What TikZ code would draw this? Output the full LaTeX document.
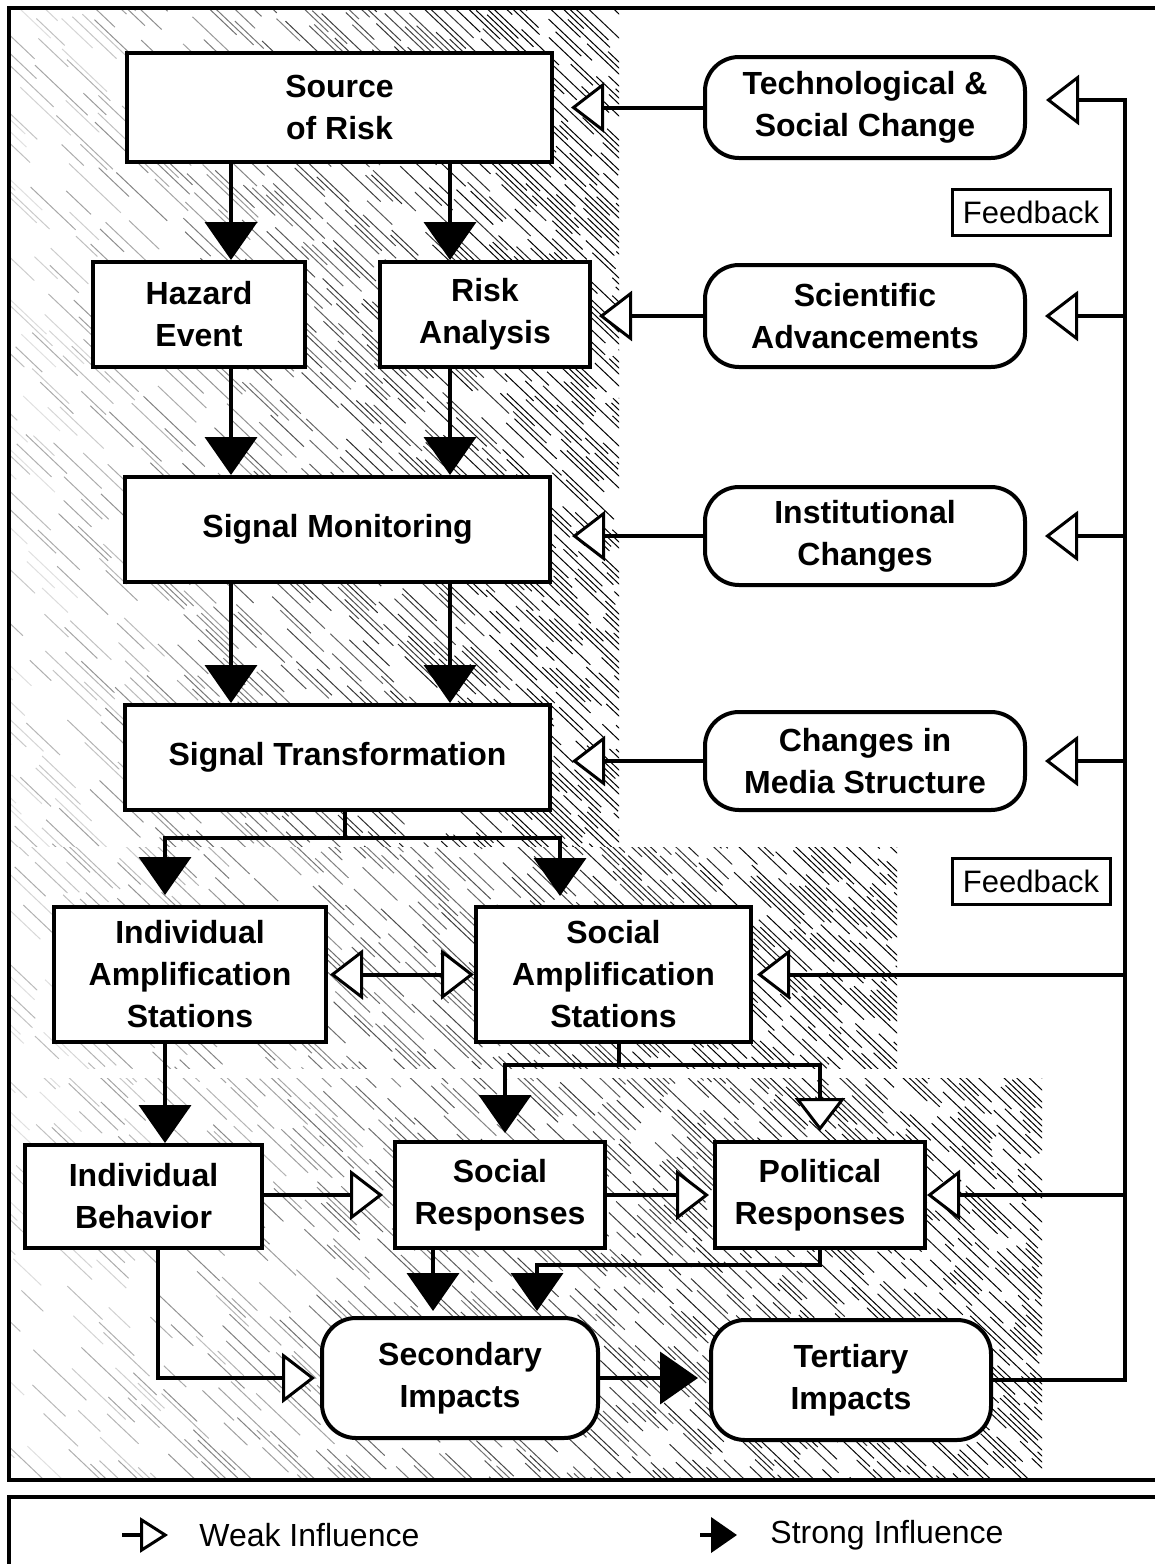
\documentclass[tikz,border=0pt]{standalone}
\usepackage{fontspec}
\setmainfont{Liberation Sans}
\usetikzlibrary{arrows.meta,calc}

\tikzset{
  stip/.tip={Triangle[width=26pt,length=19pt]},
  wtip/.tip={Triangle[width=25pt,length=16.5pt,fill=white,line width=1.5pt]},
  lstip/.tip={Triangle[width=17.5pt,length=13pt]},
  lwtip/.tip={Triangle[width=17.5pt,length=14pt,fill=white,line width=1.5pt]},
  box/.style={draw,line width=2pt,fill=white,inner sep=0pt,align=center,
    font=\fontsize{16}{21}\selectfont\bfseries},
  rbox/.style={box,rounded corners=17pt},
  tag/.style={draw,line width=1.5pt,fill=white,inner sep=0pt,
    minimum width=79pt,minimum height=23pt,font=\fontsize{15.5}{18}\selectfont},
  conn/.style={line width=2pt},
  strong/.style={conn,-stip},
  weak/.style={conn,-wtip},
  mutual/.style={conn,wtip-wtip},
  lstrong/.style={conn,-lstip},
  lweak/.style={conn,-lwtip},
  legendtext/.style={anchor=west,inner sep=0pt,font=\fontsize{16}{19}\selectfont},
  hatchline/.style={line width=0.5pt},
  frame/.style={line width=1.6pt},
}

% slope, spacing and stride of the diagonal streaks (in px units)
\def\hzs{0.95}
\def\hzstep{6}
\def\hzseg{60}

% streaked diagonal shading, light on the left and dark on the right
\newcommand{\hatchzone}[4]{%
  \begin{scope}
    \clip (#1,#2) rectangle (#3,#4);
    \pgfmathsetmacro{\hzw}{#3-#1}%
    \pgfmathsetmacro{\hzb}{#2-\hzs*\hzw}%
    \pgfmathsetmacro{\hzbb}{\hzb+\hzstep}%
    \foreach \hzbv in {\hzb,\hzbb,...,#4}{%
      \pgfmathsetmacro{\hzxi}{max(#1,#1+(#2-\hzbv)/\hzs)}%
      \pgfmathsetmacro{\hzxo}{min(#3,#1+(#4-\hzbv)/\hzs)}%
      \pgfmathsetmacro{\hzx}{\hzxi-rnd*\hzseg}%
      \loop
        \pgfmathsetmacro{\hzf}{(\hzx-#1)/\hzw}%
        \pgfmathparse{rnd<0.35+0.55*\hzf ? 1 : 0}%
        \ifnum\pgfmathresult=1
          \pgfmathsetmacro{\hzd}{min(100,max(12,20+95*\hzf+24*(rnd-0.5)))}%
          \pgfmathsetmacro{\hzl}{\hzseg*(0.35+0.6*rnd)}%
          \draw[hatchline,black!\hzd] (\hzx,{\hzbv+\hzs*(\hzx-#1)}) -- ++(\hzl,{\hzs*\hzl});
        \fi
        \pgfmathsetmacro{\hzx}{\hzx+\hzseg}%
      \ifdim\hzx pt<\hzxo pt\repeat
    }
  \end{scope}}

\begin{document}
\begin{tikzpicture}[x=0.5pt,y=-0.5pt]
\useasboundingbox (0,0) rectangle (1155,1564);
\clip (0,0) rectangle (1155,1564);
\pgfmathsetseed{4711}

% shaded zones
\hatchzone{9}{8}{619}{846}
\hatchzone{9}{847}{897}{1068}
\hatchzone{9}{1078}{1042}{1480}

% outer frame and legend frame
\draw[frame] (1170,8) -- (9,8) -- (9,1480) -- (1170,1480);
\draw[frame] (1170,1497) -- (9,1497) -- (9,1580);

% main chain
\node[box,minimum width=212.5pt,minimum height=54.5pt] (src) at (339.5,107.5) {Source\\of Risk};
\node[box,minimum width=106pt,minimum height=52.5pt] (haz) at (199,314.5) {Hazard\\Event};
\node[box,minimum width=105pt,minimum height=52.5pt] (risk) at (485,314.5) {Risk\\Analysis};
\node[box,minimum width=212.5pt,minimum height=52.5pt] (mon) at (337.5,529.5) {Signal Monitoring};
\node[box,minimum width=212.5pt,minimum height=52.5pt] (trans) at (337.5,757.5) {Signal Transformation};

% outside influences
\node[rbox,minimum width=160pt,minimum height=50.5pt] (tech) at (865,107.5) {Technological \&\\Social Change};
\node[rbox,minimum width=160pt,minimum height=51pt] (sci) at (865,316) {Scientific\\Advancements};
\node[rbox,minimum width=160pt,minimum height=49pt] (inst) at (865,536) {Institutional\\Changes};
\node[rbox,minimum width=160pt,minimum height=49pt] (media) at (865,761) {Changes in\\Media Structure};
\node[tag] (fb1) at (1031,212.5) {Feedback};
\node[tag] (fb2) at (1031,881.5) {Feedback};

% amplification, responses and impacts
\node[box,minimum width=136pt,minimum height=67.5pt] (iamp) at (190,974.5) {Individual\\Amplification\\Stations};
\node[box,minimum width=137.5pt,minimum height=67.5pt] (samp) at (613.5,974.5) {Social\\Amplification\\Stations};
\node[box,minimum width=118.5pt,minimum height=51.5pt] (ibeh) at (143.5,1196.5) {Individual\\Behavior};
\node[box,minimum width=105pt,minimum height=53pt] (sresp) at (500,1195) {Social\\Responses};
\node[box,minimum width=105pt,minimum height=53pt] (presp) at (820,1195) {Political\\Responses};
\node[rbox,minimum width=138pt,minimum height=60pt] (sec) at (460,1378) {Secondary\\Impacts};
\node[rbox,minimum width=140pt,minimum height=60pt] (ter) at (851,1380) {Tertiary\\Impacts};

% helper coordinates for the connector routes
\coordinate (cl) at (231,0);
\coordinate (cr) at (450,0);
\coordinate (tstem) at (345,0);
\coordinate (busL) at (165,838);
\coordinate (busR) at (560,838);
\coordinate (sstem) at (619,0);
\coordinate (rbusL) at (505,1065);
\coordinate (rbusR) at (820,1065);
\coordinate (ibx) at (165,0);
\coordinate (srx) at (433,0);
\coordinate (pbus) at (537,1265);
\coordinate (bhx) at (158,0);
\coordinate (fbtop) at (1125,100);

% strong flow down the chain
\draw[strong] (src.south -| cl) -- (haz.north -| cl);
\draw[strong] (src.south -| cr) -- (risk.north -| cr);
\draw[strong] (haz.south -| cl) -- (mon.north -| cl);
\draw[strong] (risk.south -| cr) -- (mon.north -| cr);
\draw[strong] (mon.south -| cl) -- (trans.north -| cl);
\draw[strong] (mon.south -| cr) -- (trans.north -| cr);
\draw[strong,shorten >=5pt] (trans.south -| tstem) |- (busL) -- (iamp.north -| busL);
\draw[strong,shorten >=4.5pt] (trans.south -| tstem) |- (busR) -- (samp.north -| busR);

% outside influences acting on the chain
\draw[weak,shorten >=8.5pt] (tech.west) -- (tech.west -| src.east);
\draw[weak,shorten >=3.5pt] (sci.west) -- (sci.west -| risk.east);
\draw[weak,shorten >=10pt] (inst.west) -- (inst.west -| mon.east);
\draw[weak,shorten >=10pt] (media.west) -- (media.west -| trans.east);

% amplification stations
\draw[mutual,shorten <=1pt] (iamp.east) -- (samp.west);
\draw[strong,shorten >=3.5pt] (samp.south -| sstem) |- (rbusL) -- (sresp.north -| rbusL);
\draw[weak,shorten >=4.5pt] (samp.south -| sstem) |- (rbusR) -- (presp.north -| rbusR);
\draw[strong] (iamp.south -| ibx) -- (ibeh.north -| ibx);

% responses
\draw[weak,shorten >=5pt] (ibeh.east |- sresp.west) -- (sresp.west);
\draw[weak,shorten >=2pt] (sresp.east) -- (presp.west);
\draw[strong,shorten >=2.5pt] (sresp.south -| srx) -- (sec.north -| srx);
\draw[strong,shorten >=2.5pt] (presp.south) |- (pbus) -- (sec.north -| pbus);
\draw[weak,shorten >=2.5pt] (ibeh.south -| bhx) |- (sec.west);
\draw[strong,shorten >=5.5pt] (sec.east) -- (sec.east -| ter.west);

% feedback loop
\draw[weak,shorten >=9.5pt] (ter.east) -| (fbtop) -- (fbtop -| tech.east);
\draw[weak,shorten >=9pt] (fbtop |- sci.east) -- (sci.east);
\draw[weak,shorten >=9pt] (fbtop |- inst.east) -- (inst.east);
\draw[weak,shorten >=9pt] (fbtop |- media.east) -- (media.east);
\draw[weak,shorten >=2pt] (fbtop |- samp.east) -- (samp.east);
\draw[weak] (fbtop |- presp.east) -- (presp.east);

% legend
\node[legendtext] (wtxt) at (199,1535) {Weak Influence};
\node[legendtext] (stxt) at (770,1535) {Strong Influence};
\coordinate (wa0) at (122,1535);
\coordinate (wa1) at (168,1535);
\coordinate (sa0) at (700,1535);
\coordinate (sa1) at (737,1535);
\draw[lweak] (wa0) -- (wa1);
\draw[lstrong] (sa0) -- (sa1);
\end{tikzpicture}
\end{document}
